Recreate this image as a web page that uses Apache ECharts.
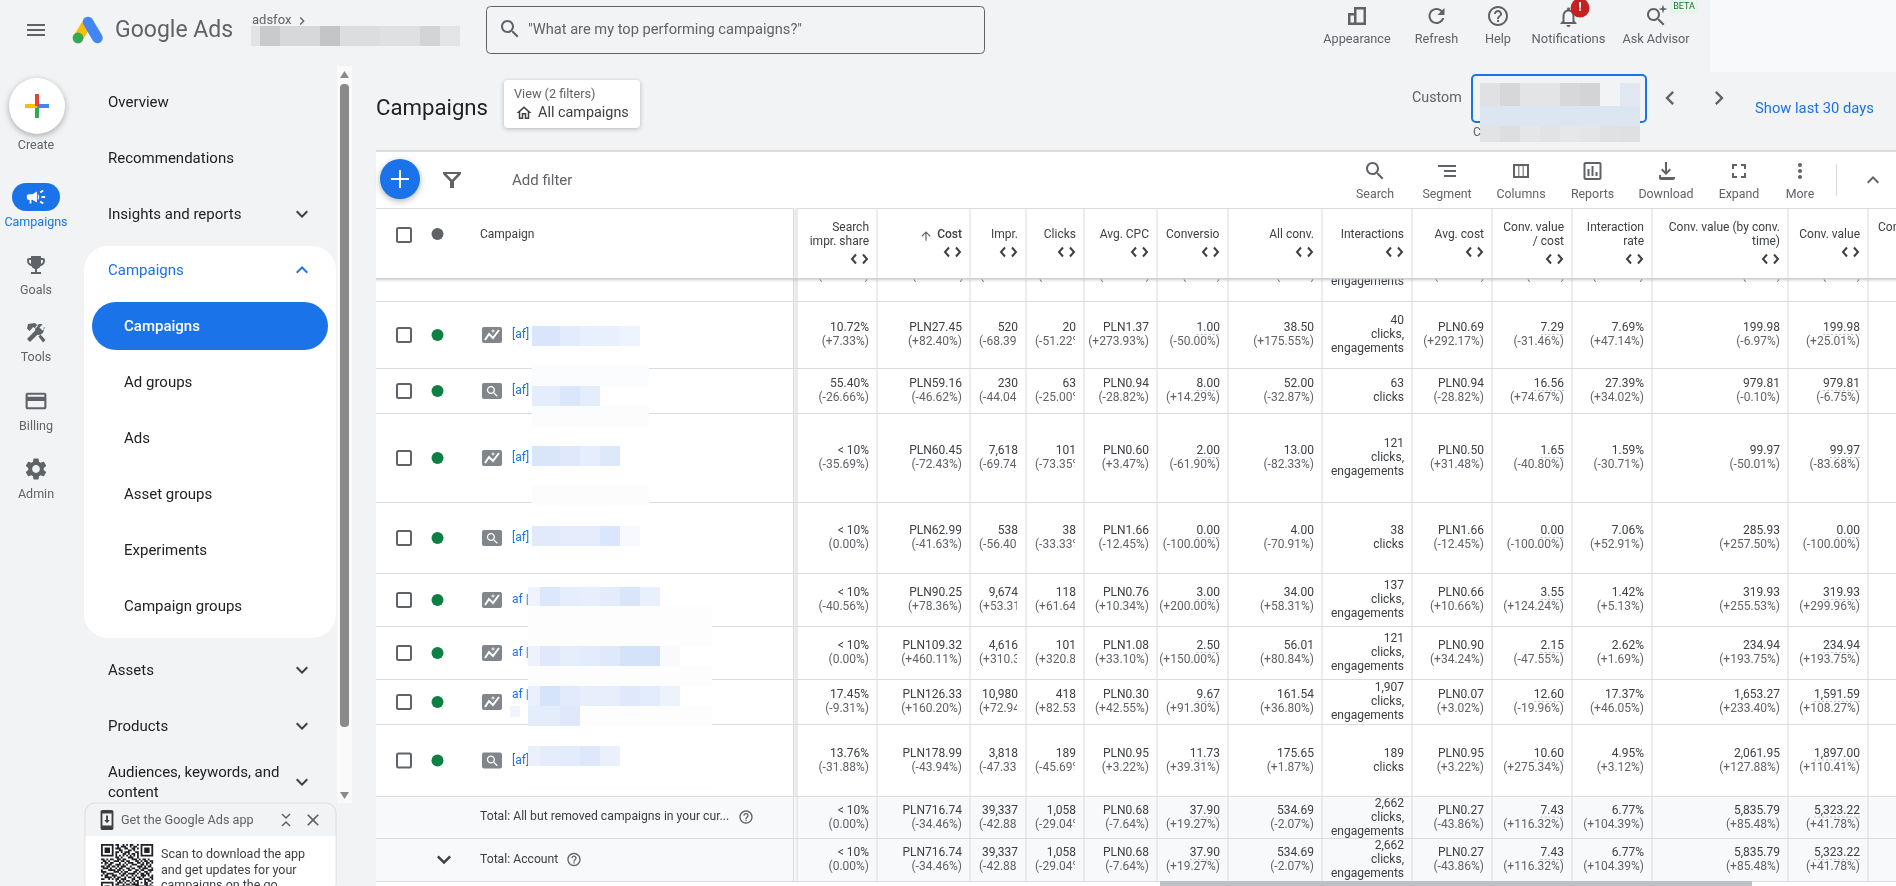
<!DOCTYPE html>
<html>
<head>
<meta charset="utf-8">
<title>Campaigns</title>
<script src="https://cdn.jsdelivr.net/npm/echarts@6/dist/echarts.min.js"></script>
<style>
html,body{margin:0;padding:0;background:#f1f3f4;overflow:hidden}
#main{width:1896px;height:886px}
</style>
</head>
<body>
<div id="main"></div>
<script>
// table values, one list per column, last two entries are the total rows
const searchShare = [['10.72%','(+7.33%)'],['55.40%','(-26.66%)'],['< 10%','(-35.69%)'],['< 10%','(0.00%)'],['< 10%','(-40.56%)'],['< 10%','(0.00%)'],['17.45%','(-9.31%)'],['13.76%','(-31.88%)'],['< 10%','(0.00%)'],['< 10%','(0.00%)']];
const cost = [['PLN27.45','(+82.40%)'],['PLN59.16','(-46.62%)'],['PLN60.45','(-72.43%)'],['PLN62.99','(-41.63%)'],['PLN90.25','(+78.36%)'],['PLN109.32','(+460.11%)'],['PLN126.33','(+160.20%)'],['PLN178.99','(-43.94%)'],['PLN716.74','(-34.46%)'],['PLN716.74','(-34.46%)']];
const impr = [['520','(-68.39%)'],['230','(-44.04%)'],['7,618','(-69.74%)'],['538','(-56.40%)'],['9,674','(+53.31%)'],['4,616','(+310.30%)'],['10,980','(+72.94%)'],['3,818','(-47.33%)'],['39,337','(-42.88%)'],['39,337','(-42.88%)']];
const clicks = [['20','(-51.22%)'],['63','(-25.00%)'],['101','(-73.35%)'],['38','(-33.33%)'],['118','(+61.64%)'],['101','(+320.80%)'],['418','(+82.53%)'],['189','(-45.69%)'],['1,058','(-29.04%)'],['1,058','(-29.04%)']];
const avgCpc = [['PLN1.37','(+273.93%)'],['PLN0.94','(-28.82%)'],['PLN0.60','(+3.47%)'],['PLN1.66','(-12.45%)'],['PLN0.76','(+10.34%)'],['PLN1.08','(+33.10%)'],['PLN0.30','(+42.55%)'],['PLN0.95','(+3.22%)'],['PLN0.68','(-7.64%)'],['PLN0.68','(-7.64%)']];
const conversions = [['1.00','(-50.00%)'],['8.00','(+14.29%)'],['2.00','(-61.90%)'],['0.00','(-100.00%)'],['3.00','(+200.00%)'],['2.50','(+150.00%)'],['9.67','(+91.30%)'],['11.73','(+39.31%)'],['37.90','(+19.27%)'],['37.90','(+19.27%)']];
const allConv = [['38.50','(+175.55%)'],['52.00','(-32.87%)'],['13.00','(-82.33%)'],['4.00','(-70.91%)'],['34.00','(+58.31%)'],['56.01','(+80.84%)'],['161.54','(+36.80%)'],['175.65','(+1.87%)'],['534.69','(-2.07%)'],['534.69','(-2.07%)']];
const interactions = [['40','clicks,','engagements'],['63','clicks'],['121','clicks,','engagements'],['38','clicks'],['137','clicks,','engagements'],['121','clicks,','engagements'],['1,907','clicks,','engagements'],['189','clicks'],['2,662','clicks,','engagements'],['2,662','clicks,','engagements']];
const avgCost = [['PLN0.69','(+292.17%)'],['PLN0.94','(-28.82%)'],['PLN0.50','(+31.48%)'],['PLN1.66','(-12.45%)'],['PLN0.66','(+10.66%)'],['PLN0.90','(+34.24%)'],['PLN0.07','(+3.02%)'],['PLN0.95','(+3.22%)'],['PLN0.27','(-43.86%)'],['PLN0.27','(-43.86%)']];
const convValueCost = [['7.29','(-31.46%)'],['16.56','(+74.67%)'],['1.65','(-40.80%)'],['0.00','(-100.00%)'],['3.55','(+124.24%)'],['2.15','(-47.55%)'],['12.60','(-19.96%)'],['10.60','(+275.34%)'],['7.43','(+116.32%)'],['7.43','(+116.32%)']];
const interactionRate = [['7.69%','(+47.14%)'],['27.39%','(+34.02%)'],['1.59%','(-30.71%)'],['7.06%','(+52.91%)'],['1.42%','(+5.13%)'],['2.62%','(+1.69%)'],['17.37%','(+46.05%)'],['4.95%','(+3.12%)'],['6.77%','(+104.39%)'],['6.77%','(+104.39%)']];
const convValueTime = [['199.98','(-6.97%)'],['979.81','(-0.10%)'],['99.97','(-50.01%)'],['285.93','(+257.50%)'],['319.93','(+255.53%)'],['234.94','(+193.75%)'],['1,653.27','(+233.40%)'],['2,061.95','(+127.88%)'],['5,835.79','(+85.48%)'],['5,835.79','(+85.48%)']];
const convValue = [['199.98','(+25.01%)'],['979.81','(-6.75%)'],['99.97','(-83.68%)'],['0.00','(-100.00%)'],['319.93','(+299.96%)'],['234.94','(+193.75%)'],['1,591.59','(+108.27%)'],['1,897.00','(+110.41%)'],['5,323.22','(+41.78%)'],['5,323.22','(+41.78%)']];

const headerLabels = [['Search','impr. share'],['Cost'],['Impr.'],['Clicks'],['Avg. CPC'],['Conversions'],['All conv.'],['Interactions'],['Avg. cost'],['Conv. value','/ cost'],['Interaction','rate'],['Conv. value (by conv.','time)'],['Conv. value']];
const campaignNames = ['[af]','[af]','[af]','[af]','af |','af |','af |','[af]'];
const campaignTypes = ['pmax','search','pmax','search','pmax','pmax','pmax','search'];
const totalLabels = ['Total: All but removed campaigns in your cur...','Total: Account'];
const navItems = ['Overview','Recommendations','Insights and reports','Campaigns','Ad groups','Ads','Asset groups','Experiments','Campaign groups','Assets','Products'];
const railItems = ['Create','Campaigns','Goals','Tools','Billing','Admin'];
const topActions = ['Appearance','Refresh','Help','Notifications','Ask Advisor'];
const toolActions = ['Search','Segment','Columns','Reports','Download','Expand','More'];

const tableColumns = [searchShare,cost,impr,clicks,avgCpc,conversions,allConv,interactions,avgCost,convValueCost,interactionRate,convValueTime,convValue];

// layout of the table
const colEdges = [797,877,970,1026,1084,1157,1228,1322,1412,1492,1572,1652,1788,1868];
const rowEdges = [301,368,413,502,573,626,679,724,796,838,881];
const clippedCols = [2,3];        // long deltas get cut off in these
const dashedCols = [5,9,12];      // dotted underline below the value
const FONT = 'Roboto, sans-serif';

const ICON = {
  menu:'M3 18h18v-2H3v2zm0-5h18v-2H3v2zm0-7v2h18V6H3z',
  search:'M15.5 14h-.79l-.28-.27C15.41 12.59 16 11.11 16 9.5 16 5.91 13.09 3 9.5 3S3 5.91 3 9.5 5.91 16 9.5 16c1.61 0 3.09-.59 4.23-1.57l.27.28v.79l5 4.99L20.49 19l-4.99-5zm-6 0C7.01 14 5 11.99 5 9.5S7.01 5 9.5 5 14 7.01 14 9.5 11.99 14 9.5 14z',
  refresh:'M17.65 6.35C16.2 4.9 14.21 4 12 4c-4.42 0-7.99 3.58-7.99 8s3.57 8 7.99 8c3.73 0 6.84-2.55 7.73-6h-2.08c-.82 2.33-3.04 4-5.65 4-3.31 0-6-2.69-6-6s2.69-6 6-6c1.66 0 3.14.69 4.22 1.78L13 11h7V4l-2.35 2.35z',
  help:'M11 18h2v-2h-2v2zm1-16C6.48 2 2 6.48 2 12s4.48 10 10 10 10-4.48 10-10S17.52 2 12 2zm0 18c-4.41 0-8-3.59-8-8s3.59-8 8-8 8 3.59 8 8-3.59 8-8 8zm0-14c-2.21 0-4 1.79-4 4h2c0-1.1.9-2 2-2s2 .9 2 2c0 2-3 1.75-3 5h2c0-2.25 3-2.5 3-5 0-2.21-1.79-4-4-4z',
  bell:'M12 22c1.1 0 2-.9 2-2h-4c0 1.1.9 2 2 2zm6-6v-5c0-3.07-1.63-5.64-4.5-6.32V4c0-.83-.67-1.5-1.5-1.5s-1.5.67-1.5 1.5v.68C7.64 5.36 6 7.92 6 11v5l-2 2v1h16v-1l-2-2zm-2 1H8v-6c0-2.48 1.51-4.5 4-4.5s4 2.02 4 4.5v6z',
  left:'M15.41 7.41L14 6l-6 6 6 6 1.41-1.41L10.83 12z',
  right:'M10 6L8.59 7.41 13.17 12l-4.58 4.59L10 18l6-6z',
  down:'M16.59 8.59L12 13.17 7.41 8.59 6 10l6 6 6-6z',
  up:'M12 8l-6 6 1.41 1.41L12 10.83l4.59 4.58L18 14z',
  gear:'M19.14 12.94c.04-.3.06-.61.06-.94 0-.32-.02-.64-.07-.94l2.03-1.58c.18-.14.23-.41.12-.61l-1.92-3.32c-.12-.22-.37-.29-.59-.22l-2.39.96c-.5-.38-1.03-.7-1.62-.94l-.36-2.54c-.04-.24-.24-.41-.48-.41h-3.84c-.24 0-.43.17-.47.41l-.36 2.54c-.59.24-1.13.57-1.62.94l-2.39-.96c-.22-.08-.47 0-.59.22L2.74 8.87c-.12.21-.08.47.12.61l2.03 1.58c-.05.3-.09.63-.09.94s.02.64.07.94l-2.03 1.58c-.18.14-.23.41-.12.61l1.92 3.32c.12.22.37.29.59.22l2.39-.96c.5.38 1.03.7 1.62.94l.36 2.54c.05.24.24.41.48.41h3.84c.24 0 .44-.17.47-.41l.36-2.54c.59-.24 1.13-.56 1.62-.94l2.39.96c.22.08.47 0 .59-.22l1.92-3.32c.12-.22.07-.47-.12-.61l-2.01-1.58zM12 15.6c-1.98 0-3.6-1.62-3.6-3.6s1.62-3.6 3.6-3.6 3.6 1.62 3.6 3.6-1.62 3.6-3.6 3.6z',
  trophy:'M19 5h-2V3H7v2H5c-1.1 0-2 .9-2 2v1c0 2.55 1.92 4.63 4.39 4.94.63 1.5 1.98 2.63 3.61 2.96V19H7v2h10v-2h-4v-3.1c1.63-.33 2.98-1.46 3.61-2.96C19.08 12.63 21 10.55 21 8V7c0-1.1-.9-2-2-2zM5 8V7h2v3.82C5.84 10.4 5 9.3 5 8zm14 0c0 1.3-.84 2.4-2 2.82V7h2v1z',
  tools:'M21.5 6.5l-3 3-3-3 3-3c-2-.8-4.5-.3-6 1.2-1.3 1.3-1.7 3.2-1.2 4.9L3 18l3 3 7.4-7.3c1.7.5 3.6.1 4.9-1.2 1.5-1.5 2-4 1.2-6zM4 3l7-1 3 3-2.5 2.5L9 6 7.5 8 5.5 10 3 7.5zM14.5 15.5l2-2 5 5.5-2.5 2.5z',
  card:'M20 4H4c-1.11 0-1.99.89-1.99 2L2 18c0 1.11.89 2 2 2h16c1.11 0 2-.89 2-2V6c0-1.11-.89-2-2-2zm0 14H4v-6h16v6zm0-10H4V6h16v2z',
  campaign:'M18 11v2h4v-2h-4zm-2 6.61c.96.71 2.21 1.65 3.2 2.39.4-.53.8-1.07 1.2-1.6-.99-.74-2.24-1.68-3.2-2.4-.4.54-.8 1.08-1.2 1.61zM20.4 5.6c-.4-.53-.8-1.07-1.2-1.6-.99.74-2.24 1.68-3.2 2.4.4.53.8 1.07 1.2 1.6.96-.72 2.21-1.65 3.2-2.4zM4 9c-1.1 0-2 .9-2 2v2c0 1.1.9 2 2 2h1v4h2v-4h1l5 3V6L8 9H4zm11.5 3c0-1.33-.58-2.53-1.5-3.35v6.69c.92-.81 1.5-2.01 1.5-3.34z',
  download:'M12 16l-5-5 1.41-1.41L11 12.17V3h2v9.17l2.59-2.58L17 11zM5 19v-3h2v2h14v-2h-2 2v3c0 1.1-.9 2-2 2H7c-1.1 0-2-.9-2-2z',
  columns:'M4 5v14h16V5H4zm5.33 12H6V7h3.33v10zm4.34 0h-3.34V7h3.34v10zM18 17h-3.33V7H18v10z',
  reports:'M19 3H5c-1.1 0-2 .9-2 2v14c0 1.1.9 2 2 2h14c1.1 0 2-.9 2-2V5c0-1.1-.9-2-2-2zm0 16H5V5h14v14zM7 10h2v7H7zm4-3h2v10h-2zm4 6h2v4h-2z',
  expand:'M7 14H5v5h5v-2H7v-3zm-2-4h2V7h3V5H5v5zm12 7h-3v2h5v-5h-2v3zM14 5v2h3v3h2V5h-5z',
  more:'M12 8c1.1 0 2-.9 2-2s-.9-2-2-2-2 .9-2 2 .9 2 2 2zm0 2c-1.1 0-2 .9-2 2s.9 2 2 2 2-.9 2-2-.9-2-2-2zm0 6c-1.1 0-2 .9-2 2s.9 2 2 2 2-.9 2-2-.9-2-2-2z',
  segment:'M9 18h12v-2H9v2zM3 6v2h18V6H3zm6 7h12v-2H9v2z',
  home:'M12 5.69l5 4.5V18h-2v-6H9v6H7v-7.81l5-4.5M12 3L2 12h3v8h6v-6h2v6h6v-8h3L12 3z',
  arrowUp:'M4 12l1.41 1.41L11 7.83V20h2V7.83l5.58 5.59L20 12l-8-8-8 8z',
  close:'M19 6.41L17.59 5 12 10.59 6.41 5 5 6.41 10.59 12 5 17.59 6.41 19 12 13.41 17.59 19 19 17.59 13.41 12z',
  appearance:'M9 3h12v18H3V9h6V3zm2.5 2.5v13h7v-13h-7zM5.5 11.5v7H9v-7H5.5z',
  filter:'M3 4h18v2l-7 7.5V20h-4v-6.5L3 6V4zm3.5 2l5.5 5.8L17.5 6h-11z',
  phone:'M17 1H7C5.9 1 5 1.9 5 3v18c0 1.1.9 2 2 2h10c1.1 0 2-.9 2-2V3c0-1.1-.9-2-2-2zm0 17H7V5h10v13zM13 7h-2v5H9l3 3.5L15 12h-2V7z',
  sparkle:'M12 2l2.2 7.8L22 12l-7.8 2.2L12 22l-2.2-7.8L2 12l7.8-2.2z'
};
const sortMark = 'M5 1L1 5.5L5 10 M12 1L16 5.5L12 10';

// hand read module pattern of the QR code in the app card
const qrRows = [
  '11111110110010101100101111111','10000010010111001011001000001','10111010111001100110101011101',
  '10111010001100011010001011101','10111010110101110001101011101','10000010100011010110101000001',
  '11111110101010101010101111111','00000000110100011100100000000','11010110011011000111010110100',
  '01101001110110110001101011011','10110110001001011100110101101','00101100111010100111001101010',
  '11011011010111001000111010110','01110100101100110110010111001','10001111011010011001101100111',
  '11100001110101100011010011010','01011110001011011110101101100','10110011100110100101001110101',
  '00111101011001011010110100011','11001010110111000110011011101','00000000101010110101100010110',
  '11111110011101001010101011001','10000010110010110111100011010','10111010001111001001111101101'
];

// pixelated cover of the account and campaign names, x, y, height, colours, right limit
const W1 = ['#fbfcfd','#fbfcfd','#fbfcfd','#fbfcfd','#fbfcfd','#fbfcfd','#fbfcfd'];
const W2 = ['#fdfdfd','#fdfdfd','#fdfdfd','#fdfdfd','#fdfdfd','#fdfdfd','#fdfdfd','#fdfdfd','#fdfdfd','#fdfdfd'];
const mosaics = [
  [532,326,20,['#d8e5fa','#d8e5fa','#e2ecfc','#e9f0fd','#e9f0fd','#eef4fe']],
  [532,366,20,W1,649],
  [532,386,20,['#e4edfc','#e4edfc','#d9e6fb','#e4edfc']],
  [532,406,20,W1,649],
  [532,446,20,['#d8e5fa','#d8e5fa','#dfe9fb','#e5eefc','#dde8fb']],
  [532,485,20,W1,649],
  [532,526,20,['#e0eafb','#e0eafb','#e5edfc','#e5edfc','#d9e6fb','#f7f9fe']],
  [528,587,19,['#eef3fd','#dbe7fb','#e5eefc','#e7effd','#e3ecfc','#d9e6fa','#e9f0fd']],
  [528,606,40,W2,712],
  [528,646,20,['#edf2fd','#dfe9fb','#e6eefc','#e3ecfc','#dfe9fb','#d4e3fa','#d4e3fa','#f8fafe']],
  [528,666,20,W2,712],
  [528,686,20,['#eaf1fd','#d6e4fa','#e1ebfb','#e7effd','#e7effd','#dfe9fb','#e3ecfc','#edf3fd']],
  [528,706,20,['#e4edfc','#e4edfc','#dfe9fb','#fdfdfd','#fdfdfd','#fdfdfd','#fdfdfd','#fdfdfd','#fdfdfd','#fdfdfd'],712],
  [510,706,11,['#f0f4fd']],
  [528,746,20,['#eaf1fd','#e5edfc','#e3ecfc','#dde8fb','#eaf1fd']],
  [528,786,4,W2,712]
];
function mosaicCells(list) {
  let out = [];
  list.forEach(function (m) {
    let x = m[0];
    let limit = m[4] || 9999;
    m[3].forEach(function (c) {
      let next = Math.min((Math.floor(x / 20) + 1) * 20, limit);
      if (next > x) out.push({x: x, y: m[1], w: next - x, h: m[2], c: c});
      x = next;
    });
  });
  return out;
}
const topBlur = [[251,26,20,['#e2e3e5','#c9cacc','#d7d8da','#d7d8da','#c4c5c7','#dcddde','#dcddde','#dfe0e1','#dfe0e1','#d3d4d6','#e4e5e6']],
  [1480,83,23,['#dfe1e3','#d5d7d9','#e2e4e6','#e2e4e6','#d6d8da','#d2d4d6','#f1f3f4','#e1e8f3']],
  [1480,106,20,['#dce6f3','#dce6f3','#dce6f3','#dce6f3','#dce6f3','#dce6f3','#dce6f3','#dce6f3']],
  [1480,126,16,['#e2e3e5','#dcdee0','#e5e6e8','#e2e3e5','#e6e7e8','#e4e5e7','#e0e1e3','#dfe0e2']]];

// text width, needed for clipped cells and the dotted underlines
const measure = document.createElement('canvas').getContext('2d');
function textWidth(s, font) { measure.font = font; return measure.measureText(s).width; }

function txt(s, x, y, size, color, extra) {
  extra = extra || {};
  return {type:'text', silent:true, style:{text:s, x:x, y:y + 1, fill:color,
    font:(extra.weight || 'normal') + ' ' + size + 'px ' + FONT,
    textAlign:extra.align || 'left', textVerticalAlign:'middle'}};
}
function rect(x, y, w, h, fill, extra) {
  return {type:'rect', silent:true, shape:{x:x, y:y, width:w, height:h, r:(extra && extra.r) || 0},
    style:Object.assign({fill:fill}, (extra && extra.style) || {})};
}
function icon(d, cx, cy, size, color) {
  let s = size / 24;
  return {type:'path', silent:true, shape:{pathData:d}, x:cx - size / 2, y:cy - size / 2, scaleX:s, scaleY:s, style:{fill:color}};
}
function line(x1, y1, x2, y2, color, w, cap) {
  return {type:'line', silent:true, shape:{x1:x1, y1:y1, x2:x2, y2:y2}, style:{stroke:color, lineWidth:w, lineCap:cap || 'butt'}};
}

// page furniture, everything that is not the table body
function buildChrome() {
  let g = [];
  const grey = '#5f6368', dark = '#202124', blue = '#1a73e8';

  g.push(rect(1710, 0, 186, 72, '#f8f9fa'));
  g.push(icon(ICON.menu, 36, 30, 24, grey));
  // logo
  g.push(line(88, 22, 78, 38, '#fbbc04', 10, 'round'));
  g.push(line(88, 22, 97.5, 38, '#4285f4', 10.5, 'round'));
  g.push({type:'circle', silent:true, shape:{cx:78, cy:38, r:5.4}, style:{fill:'#34a853'}});
  g.push(txt('Google Ads', 115, 30, 23, grey));
  g.push(txt('adsfox', 252, 20, 13, grey));
  g.push(icon(ICON.right, 302, 21, 16, grey));
  mosaicCells(topBlur.slice(0, 1)).forEach(function (c) { g.push(rect(c.x, c.y, c.w, c.h, c.c)); });

  g.push(rect(486.5, 6.5, 498, 47, '#f1f3f4', {r:4, style:{stroke:grey, lineWidth:1}}));
  g.push(icon(ICON.search, 510, 29, 24, grey));
  g.push(txt('"What are my top performing campaigns?"', 528, 29.5, 14.65, grey));

  const topX = [1357, 1436.5, 1498, 1568.5, 1656];
  topActions.forEach(function (s, i) { g.push(txt(s, topX[i], 39, i === 3 ? 13 : 12.7, grey, {align:'center'})); });
  g.push(icon(ICON.appearance, topX[0], 16, 24, grey));
  g.push(icon(ICON.refresh, topX[1], 16, 24, grey));
  g.push(icon(ICON.help, topX[2], 16, 24, grey));
  g.push(icon(ICON.bell, topX[3], 17, 24, grey));
  g.push({type:'circle', silent:true, shape:{cx:1580, cy:8, r:9.5}, style:{fill:'#c5221f'}});
  g.push(txt('!', 1580, 7, 13, '#fff', {align:'center', weight:'bold'}));
  g.push(icon(ICON.search, 1656, 17, 24, grey));
  g.push(icon(ICON.sparkle, 1663, 9, 11, grey));
  g.push(rect(1670, 0, 28, 14, '#e6f4ea'));
  g.push(txt('BETA', 1684, 5.5, 9, '#137333', {align:'center'}));

  // left rail
  g.push({type:'circle', silent:true, shape:{cx:37, cy:106, r:28}, style:{fill:'#fff', shadowBlur:6, shadowColor:'rgba(60,64,67,.4)', shadowOffsetY:2}});
  g.push(rect(25, 104, 12, 4, '#fbbc04'));
  g.push(rect(37, 104, 12, 4, '#4285f4'));
  g.push(rect(35, 94, 4, 12, '#ea4335'));
  g.push(rect(35, 108, 4, 10, '#34a853'));
  const railY = [144.5, 221.5, 289.5, 357, 425.5, 493.5];
  railItems.forEach(function (s, i) { g.push(txt(s, 36, railY[i], 12.5, i === 1 ? blue : grey, {align:'center'})); });
  g.push(rect(12, 183, 48, 28, blue, {r:14}));
  g.push(icon(ICON.campaign, 36, 197, 22, '#fff'));
  g.push(icon(ICON.trophy, 36, 265, 24, grey));
  g.push(icon(ICON.tools, 36, 333, 24, grey));
  g.push(icon(ICON.card, 36, 401, 25, grey));
  g.push(icon(ICON.gear, 36, 469, 26, grey));

  // nav panel
  g.push(rect(84, 246, 252, 392, '#fff', {r:24}));
  g.push(rect(92, 302, 236, 48, blue, {r:24}));
  const navY = [102, 158, 214, 270, 382.5, 438, 494, 550, 606.5, 670, 726];
  navItems.forEach(function (s, i) {
    let x = (i >= 4 && i <= 8) ? 124 : 108;
    g.push(txt(s, x, navY[i], 15, i === 3 ? blue : dark));
  });
  g.push(txt('Campaigns', 124, 326, 15, '#fff', {weight:500}));
  g.push(txt('Audiences, keywords, and', 108, 772, 15, dark));
  g.push(txt('content', 108, 792.5, 15, dark));
  [[214,'#3c4043',ICON.down],[270,blue,ICON.up],[670,'#3c4043',ICON.down],[726,'#3c4043',ICON.down],[782,'#3c4043',ICON.down]].forEach(function (a) {
    g.push(icon(a[2], 302, a[0], 24, a[1]));
  });

  // nav scrollbar
  g.push(rect(337, 66, 15, 737, '#fafafa'));
  g.push(rect(340, 84, 9, 643, '#8a8a8a', {r:4}));
  g.push({type:'polygon', silent:true, shape:{points:[[344.5,71],[340,78],[349,78]]}, style:{fill:'#8a8a8a'}});
  g.push({type:'polygon', silent:true, shape:{points:[[344.5,799],[340,792],[349,792]]}, style:{fill:'#8a8a8a'}});

  // app card
  g.push(rect(85, 803, 251, 90, '#f1f3f4', {r:10, style:{stroke:'#dadce0', lineWidth:1}}));
  g.push(rect(85.5, 836, 250, 56, '#fff'));
  g.push(icon(ICON.phone, 107, 820, 22, '#3c4043'));
  g.push(txt('Get the Google Ads app', 121, 820, 12.65, grey));
  g.push({type:'path', silent:true, shape:{pathData:'M282 814l4 4 4-4M282 826l4-4 4 4'}, style:{fill:'none', stroke:grey, lineWidth:1.5}});
  g.push(icon(ICON.close, 313, 820, 20, grey));
  let qr = '';
  qrRows.forEach(function (row, r) {
    row.split('').forEach(function (b, c) {
      if (b === '1') qr += 'M' + (101 + c * 1.8) + ' ' + (844 + r * 1.8) + 'h1.8v1.8h-1.8z';
    });
  });
  g.push({type:'path', silent:true, shape:{pathData:qr}, style:{fill:'#202124'}});
  g.push(txt('Scan to download the app', 161, 853.5, 12.5, '#3c4043'));
  g.push(txt('and get updates for your', 161, 869.5, 12.5, '#3c4043'));
  g.push(txt('campaigns on the go', 161, 885, 12.5, '#3c4043'));

  // title row
  g.push(txt('Campaigns', 376, 108.5, 22.2, dark));
  g.push(rect(504, 80, 136, 48, '#fff', {r:4, style:{shadowBlur:4, shadowColor:'rgba(60,64,67,.35)', shadowOffsetY:1}}));
  g.push(txt('View (2 filters)', 514, 93.5, 12.7, grey));
  g.push(icon(ICON.home, 524, 113, 18, '#3c4043'));
  g.push(txt('All campaigns', 538, 112, 14.4, '#3c4043'));
  g.push(txt('Custom', 1412, 97, 14.3, grey));
  g.push(rect(1472, 75, 174, 47, 'none', {r:4, style:{stroke:blue, lineWidth:2}}));
  mosaicCells(topBlur.slice(1)).forEach(function (c) { g.push(rect(c.x, c.y, c.w, c.h, c.c)); });
  g.push(txt('C', 1473, 132, 12, grey));
  g.push(icon(ICON.left, 1670, 98, 28, grey));
  g.push(icon(ICON.right, 1719, 98, 28, grey));
  g.push(txt('Show last 30 days', 1755, 108.5, 14.75, blue));

  // white card of the table
  g.push(rect(376, 152, 1520, 734, '#fff'));
  g.push(rect(376, 150, 1520, 2, '#dadce0'));
  g.push({type:'circle', silent:true, shape:{cx:400, cy:179, r:20}, style:{fill:blue, shadowBlur:6, shadowColor:'rgba(60,64,67,.4)', shadowOffsetY:2}});
  g.push(rect(399, 170, 2, 18, '#fff'));
  g.push(rect(391, 178, 18, 2, '#fff'));
  g.push(icon(ICON.filter, 452, 180, 24, grey));
  g.push(txt('Add filter', 512, 180, 15, grey));

  const toolX = [1375, 1447, 1521, 1592.5, 1666, 1739, 1800];
  const toolIcons = [ICON.search, ICON.segment, ICON.columns, ICON.reports, ICON.download, ICON.expand, ICON.more];
  toolActions.forEach(function (s, i) {
    g.push(txt(s, toolX[i], 194, 12.4, grey, {align:'center'}));
    g.push(icon(toolIcons[i], toolX[i], 171, 24, grey));
  });
  g.push(rect(1836, 164, 1, 32, '#dadce0'));
  g.push(icon(ICON.up, 1873, 180, 24, grey));

  // header row furniture
  g.push(rect(376, 208, 1520, 1, '#dadce0'));
  g.push(rect(397, 228, 14, 14, 'none', {r:1.5, style:{stroke:grey, lineWidth:2}}));
  g.push({type:'circle', silent:true, shape:{cx:437.5, cy:234, r:6}, style:{fill:grey}});
  g.push(txt('Campaign', 480, 233.5, 12, '#3c4043'));
  g.push(rect(793, 208, 4, 673, '#eceef0'));
  g.push(txt('Conv.', 1878, 227, 12, '#3c4043'));
  return g;
}

function renderChrome() {
  return {type:'group', children:buildChrome()};
}

// body backgrounds and grid lines
function renderGrid(params, api) {
  let ch = [];
  let top = api.coord([0, rowEdges[8]])[1], bottom = api.coord([0, rowEdges[10]])[1];
  let left = api.coord([376, 0])[0], right = api.coord([1896, 0])[0];
  let head = api.coord([0, 208])[1];
  ch.push(rect(left, top, right - left, bottom - top, '#f8f9fa'));
  rowEdges.forEach(function (y) {
    ch.push(rect(left, api.coord([0, y])[1], right - left, 1, '#dadce0'));
  });
  colEdges.forEach(function (x) {
    ch.push(rect(api.coord([x, 0])[0] - 0.5, head, 1, bottom - head, '#dadce0'));
  });
  ch.push(rect(api.coord([793, 0])[0], head, 1, bottom - head, '#dadce0'));
  return {type:'group', children:ch};
}

function rowCenter(r, api) {
  return (api.coord([0, rowEdges[r]])[1] + api.coord([0, rowEdges[r + 1]])[1]) / 2;
}

// one table cell: value on top, change below
function renderCell(params, api) {
  let c = api.value(0), r = api.value(1);
  let lines = tableColumns[c][r];
  let left = api.coord([colEdges[c], 0])[0];
  let right = api.coord([colEdges[c + 1], 0])[0] - 8;
  let cy = rowCenter(r, api) + 0.5;
  let ch = [];
  let start = cy - (lines.length - 1) * 7;
  lines.forEach(function (s, i) {
    let color = (c !== 7 && i === 1) ? '#5f6368' : '#3c4043';
    let y = start + i * 14 - 1;
    if (clippedCols.indexOf(c) >= 0 && textWidth(s, '12px Roboto') > right - left - 8) {
      let el = txt(s, left + 9, y, 12, color);
      el.clipPath = {type:'rect', shape:{x:left, y:y - 10, width:right - left - 1, height:22}};
      ch.push(el);
    } else {
      ch.push(txt(s, right, y, 12, color, {align:'right'}));
    }
    if (i === 0 && dashedCols.indexOf(c) >= 0) {
      let w = textWidth(s, '12px Roboto');
      ch.push({type:'line', silent:true, shape:{x1:right - w, y1:y + 7.5, x2:right, y2:y + 7.5}, style:{stroke:'#bdc1c6', lineWidth:1, lineDash:[2, 2]}});
    }
  });
  return {type:'group', children:ch};
}

function sortIcon(right, y) {
  return {type:'path', silent:true, shape:{pathData:sortMark}, x:right - 17, y:y - 5.5, style:{fill:'none', stroke:'#3c4043', lineWidth:2}};
}

// header labels with the sort marks
function renderHeader(params, api) {
  let c = api.value(0);
  let lab = headerLabels[c];
  let left = api.coord([colEdges[c], 0])[0];
  let right = api.coord([colEdges[c + 1], 0])[0] - 8;
  let ch = [];
  let y0 = lab.length > 1 ? 227 : 234;
  lab.forEach(function (s, i) {
    let y = api.coord([0, y0 + i * 14])[1];
    if (c === 5) {
      let el = txt(s, left + 9, y, 12, '#3c4043');
      el.clipPath = {type:'rect', shape:{x:left, y:y - 10, width:right - left, height:22}};
      ch.push(el);
    } else {
      ch.push(txt(s, right, y, 12, '#3c4043', {align:'right', weight:c === 1 ? 500 : 'normal'}));
    }
  });
  ch.push(sortIcon(right - 1, lab.length > 1 ? 259 : 252));
  if (c === 1) ch.push(icon(ICON.arrowUp, 926, 236, 14, '#5f6368'));
  return {type:'group', children:ch};
}

// left part of a row: checkbox, status, type icon and the link
function renderCampaign(params, api) {
  let r = api.value(0);
  let cy = rowCenter(r, api) + 0.5;
  let ch = [];
  ch.push(rect(397, cy - 7, 14, 14, 'none', {r:1.5, style:{stroke:'#5f6368', lineWidth:2}}));
  ch.push({type:'circle', silent:true, shape:{cx:437.5, cy:cy, r:6}, style:{fill:'#0d8043'}});
  ch.push(rect(482, cy - 8, 20, 16, '#80868b', {r:2}));
  if (campaignTypes[r] === 'search') {
    ch.push(icon(ICON.search, 492.5, cy + 0.5, 15, '#fff'));
  } else {
    ch.push({type:'polyline', silent:true, shape:{points:[[485,cy + 5],[489,cy - 1],[493,cy + 3],[499,cy - 5]]}, style:{fill:'none', stroke:'#fff', lineWidth:2}});
    ch.push(icon(ICON.sparkle, 493, cy - 4, 6, '#fff'));
  }
  let ty = cy - 1;
  if (r === 6) ty = cy - 8;
  ch.push(txt(campaignNames[r], 512, ty, 12, '#1a73e8'));
  return {type:'group', children:ch};
}

function renderTotals(params, api) {
  let i = api.value(0);
  let cy = rowCenter(8 + i, api);
  let ch = [txt(totalLabels[i], 480, cy - 1, 12.2, '#3c4043')];
  ch.push(icon(ICON.help, i === 0 ? 746 : 574, cy, 16, '#5f6368'));
  if (i === 1) ch.push(icon(ICON.down, 444, cy, 28, '#3c4043'));
  return {type:'group', children:ch};
}

// what is left visible of the row that is scrolled under the header
const hiddenParens = [[818,866],[912,961],[980,null],[1038,null],[1099,1147],[1182,1218],[1276,1312],[1434,1482],[1526,1562],[1592,1641],[1742,1778],[1822,1858]];
function renderHiddenRow(params, api) {
  let ch = [];
  let clip = {type:'rect', shape:{x:376, y:279, width:1520, height:12}};
  hiddenParens.forEach(function (p) {
    let a = txt('(', p[0], 275, 12, '#5f6368');
    a.clipPath = clip; ch.push(a);
    if (p[1]) {
      let b = txt(')', p[1] + 3, 275, 12, '#5f6368', {align:'right'});
      b.clipPath = clip; ch.push(b);
    }
  });
  let e = txt('engagements', 1404, 281, 12, '#3c4043', {align:'right'});
  e.clipPath = clip; ch.push(e);
  return {type:'group', children:ch};
}

const cells = mosaicCells(mosaics);
function renderMosaic(params, api) {
  let m = cells[api.value(0)];
  return rect(api.coord([m.x, 0])[0], api.coord([0, m.y])[1], m.w, m.h, m.c);
}

function renderTopEdge(params, api) {
  let ch = [];
  ch.push(rect(376, 278, 1520, 1.5, '#cfd1d4'));
  ch.push(rect(376, 279.5, 1520, 3, new echarts.graphic.LinearGradient(0, 0, 0, 1, [{offset:0, color:'rgba(60,64,67,.14)'}, {offset:1, color:'rgba(60,64,67,0)'}])));
  // horizontal scrollbar
  ch.push(rect(1160, 881, 592, 5, '#bdc1c6'));
  return {type:'group', children:ch};
}

const myChart = echarts.init(document.getElementById('main'), null, {renderer:'canvas'});

const cellData = [];
tableColumns.forEach(function (col, c) { col.forEach(function (v, r) { cellData.push([c, r]); }); });

const option = {
  animation:false,
  backgroundColor:'#f1f3f4',
  tooltip:{show:false},
  grid:{left:0, right:0, top:0, bottom:0},
  xAxis:{type:'value', min:0, max:1896, show:false},
  yAxis:{type:'value', min:0, max:886, inverse:true, show:false},
  series:[
    {type:'custom', z:1, silent:true, clip:false, renderItem:renderChrome, data:[[0, 0]]},
    {type:'custom', z:2, silent:true, clip:false, renderItem:renderGrid, data:[[0, 0]]},
    {type:'custom', z:3, silent:true, clip:false, renderItem:renderHiddenRow, data:[[0, 0]]},
    {type:'custom', z:3, silent:true, clip:false, renderItem:renderHeader, data:headerLabels.map(function (l, i) { return [i, 0]; })},
    {type:'custom', z:3, silent:true, clip:false, renderItem:renderCell, data:cellData},
    {type:'custom', z:3, silent:true, clip:false, renderItem:renderCampaign, data:campaignNames.map(function (n, i) { return [i, 0]; })},
    {type:'custom', z:3, silent:true, clip:false, renderItem:renderTotals, data:totalLabels.map(function (n, i) { return [i, 0]; })},
    {type:'custom', z:4, silent:true, clip:false, renderItem:renderMosaic, data:cells.map(function (c, i) { return [i, 0]; })},
    {type:'custom', z:5, silent:true, clip:false, renderItem:renderTopEdge, data:[[0, 0]]}
  ]
};
myChart.setOption(option);
</script>
</body>
</html>
